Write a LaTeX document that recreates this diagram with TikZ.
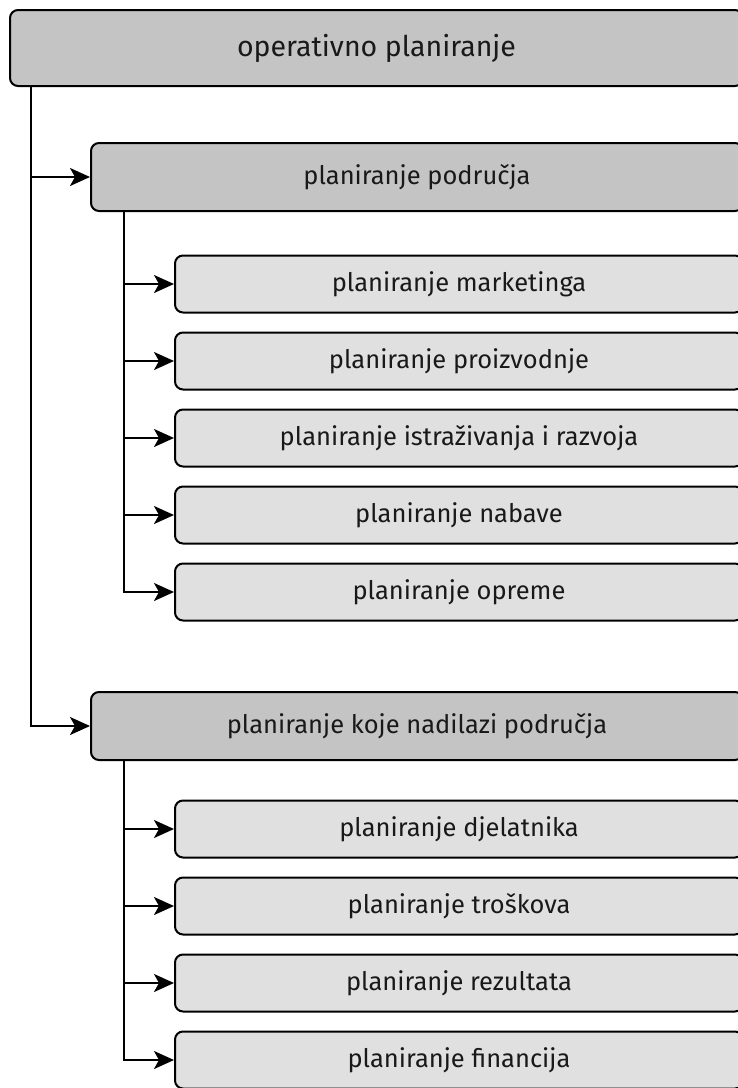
\documentclass[tikz,border=0pt]{standalone}
\usepackage{fontspec}
\setmainfont{Fira Sans}
\usetikzlibrary{arrows.meta}
\definecolor{topfill}{gray}{0.77}
\definecolor{subfill}{gray}{0.88}
\tikzset{
  box/.style={draw=black, line width=2pt, rounded corners=8pt, inner sep=0pt,
    font=\fontsize{25.5}{28}\selectfont, text=black!90},
  mainbox/.style={box, fill=topfill},
  subbox/.style={box, fill=subfill, minimum width=568pt, minimum height=57pt},
  conn/.style={line width=2pt, -{Stealth[length=20pt,width=18pt,inset=5pt]}},
}
\begin{document}
\begin{tikzpicture}[x=1pt,y=-1pt]
\clip (0,0) rectangle (738,1088);
\fill[white] (0,0) rectangle (738,1088);
\node[mainbox, minimum width=733pt, minimum height=76pt, font=\fontsize{28.5}{31}\selectfont] (A) at (376.5,48) {operativno planiranje};
\node[mainbox, minimum width=652pt, minimum height=68pt] (B) at (417,177) {planiranje područja};
\node[mainbox, minimum width=652pt, minimum height=68pt] (C) at (417,726) {planiranje koje nadilazi područja};
\node[subbox] (b1) at (459,284) {planiranje marketinga};
\node[subbox] (b2) at (459,361) {planiranje proizvodnje};
\node[subbox] (b3) at (459,438) {planiranje istraživanja i razvoja};
\node[subbox] (b4) at (459,515) {planiranje nabave};
\node[subbox] (b5) at (459,592) {planiranje opreme};
\node[subbox] (c1) at (459,829) {planiranje djelatnika};
\node[subbox] (c2) at (459,906) {planiranje troškova};
\node[subbox] (c3) at (459,983) {planiranje rezultata};
\node[subbox] (c4) at (459,1060) {planiranje financija};
\coordinate (tA) at ([xshift=22pt]A.south west);
\coordinate (tB) at ([xshift=34pt]B.south west);
\coordinate (tC) at ([xshift=34pt]C.south west);
\draw[conn] (tA) |- (B.west);
\draw[conn] (tA) |- (C.west);
\foreach \n in {b1,b2,b3,b4,b5} \draw[conn] (tB) |- (\n.west);
\foreach \n in {c1,c2,c3,c4} \draw[conn] (tC) |- (\n.west);
\end{tikzpicture}
\end{document}
